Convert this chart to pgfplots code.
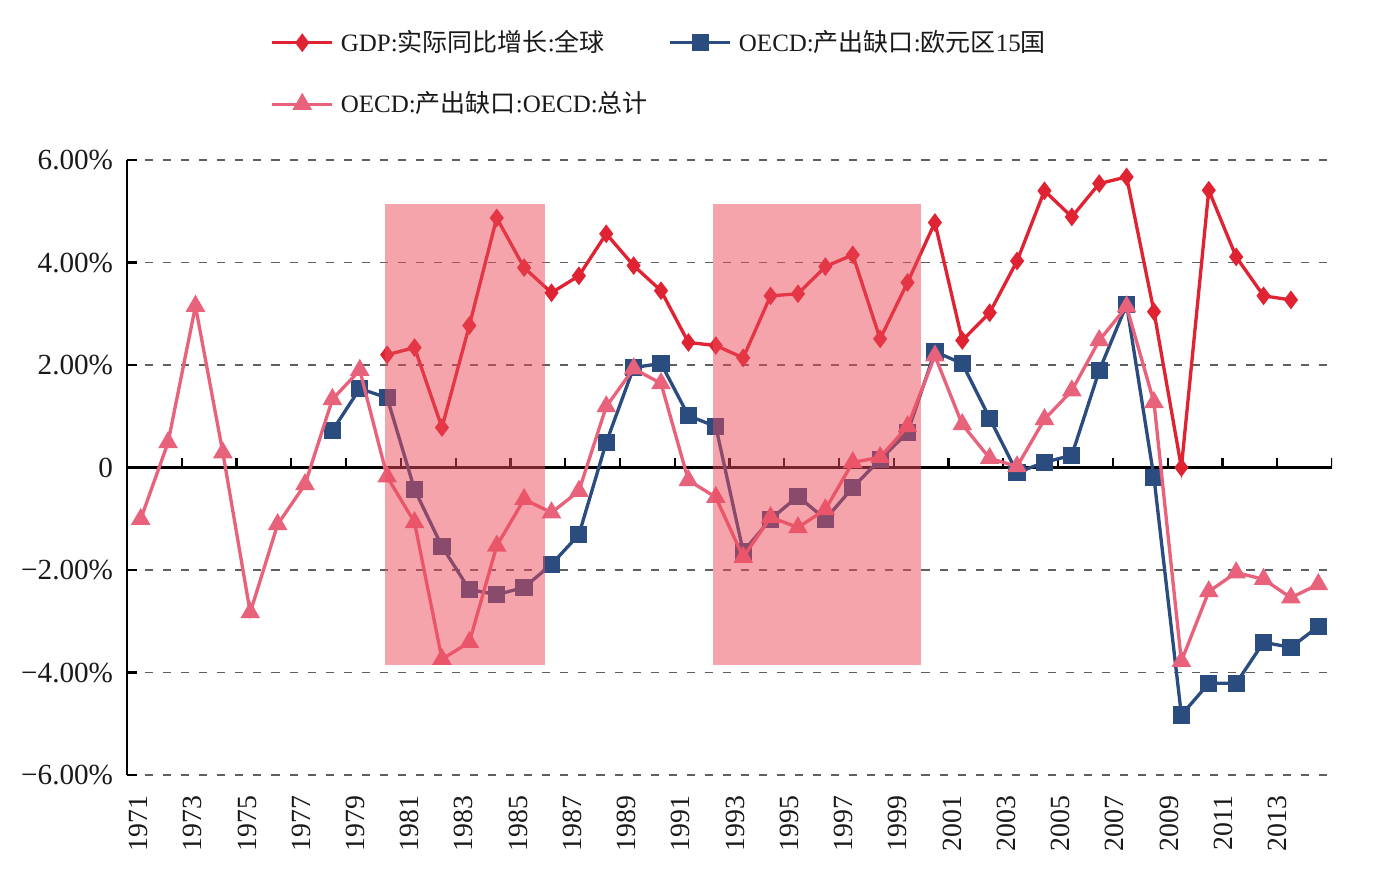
\documentclass[border=0pt]{standalone}
\usepackage{fontspec}
\setmainfont{Liberation Serif}
\newfontfamily\cjk{Noto Sans CJK SC}
\usepackage{pgfplots}
\usepackage{pgfplotstable}
\pgfplotsset{compat=1.18}

\definecolor{gdpred}{RGB}{224,35,50}
\definecolor{eurblue}{RGB}{42,76,126}
\definecolor{oecdpink}{RGB}{233,98,123}
\definecolor{bandpink}{RGB}{235,74,90}
\definecolor{gridgray}{RGB}{95,95,95}

% GDP: real growth, world (%)
\pgfplotstableread{
year val
1980 2.20
1981 2.34
1982 0.78
1983 2.77
1984 4.87
1985 3.90
1986 3.41
1987 3.74
1988 4.56
1989 3.94
1990 3.45
1991 2.44
1992 2.38
1993 2.14
1994 3.35
1995 3.39
1996 3.92
1997 4.15
1998 2.51
1999 3.61
2000 4.78
2001 2.48
2002 3.02
2003 4.03
2004 5.40
2005 4.89
2006 5.54
2007 5.67
2008 3.04
2009 0.00
2010 5.41
2011 4.11
2012 3.35
2013 3.27
}\gdpworld

% OECD output gap: euro area 15 (%)
\pgfplotstableread{
year val
1978 0.72
1979 1.54
1980 1.36
1981 -0.43
1982 -1.54
1983 -2.38
1984 -2.48
1985 -2.34
1986 -1.89
1987 -1.31
1988 0.49
1989 1.95
1990 2.03
1991 1.01
1992 0.80
1993 -1.64
1994 -1.01
1995 -0.56
1996 -1.01
1997 -0.39
1998 0.16
1999 0.68
2000 2.26
2001 2.03
2002 0.96
2003 -0.10
2004 0.10
2005 0.24
2006 1.89
2007 3.18
2008 -0.20
2009 -4.83
2010 -4.21
2011 -4.21
2012 -3.41
2013 -3.51
2014 -3.10
}\gapeuro

% OECD output gap: OECD total (%)
\pgfplotstableread{
year val
1971 -1.01
1972 0.49
1973 3.15
1974 0.29
1975 -2.83
1976 -1.11
1977 -0.33
1978 1.33
1979 1.90
1980 -0.18
1981 -1.07
1982 -3.74
1983 -3.41
1984 -1.53
1985 -0.62
1986 -0.88
1987 -0.46
1988 1.19
1989 1.93
1990 1.64
1991 -0.25
1992 -0.58
1993 -1.75
1994 -0.97
1995 -1.17
1996 -0.82
1997 0.10
1998 0.20
1999 0.80
2000 2.18
2001 0.84
2002 0.18
2003 0.02
2004 0.94
2005 1.50
2006 2.48
2007 3.14
2008 1.27
2009 -3.78
2010 -2.42
2011 -2.05
2012 -2.18
2013 -2.54
2014 -2.28
}\gaptotal

\begin{document}
\begin{tikzpicture}
\useasboundingbox (0,0) rectangle (499.68pt,-318.24pt);
\begin{axis}[
  at={(45.72pt,-279pt)}, anchor=south west,
  scale only axis, width=433.8pt, height=221.4pt,
  xmin=1970.5, xmax=2014.5, ymin=-6, ymax=6,
  clip marker paths=true,
  axis lines*=left,
  x axis line style={draw=none},
  y axis line style={black, line width=0.8pt},
  xtick={1970.92,1972.90,1974.88,1976.86,1978.84,1980.82,1982.80,1984.78,1986.76,1988.74,1990.72,1992.71,1994.69,1996.67,1998.65,2000.63,2002.61,2004.59,2006.57,2008.55,2010.53,2012.51},
  xticklabels={1971,1973,1975,1977,1979,1981,1983,1985,1987,1989,1991,1993,1995,1997,1999,2001,2003,2005,2007,2009,2011,2013},
  xtick style={draw=none},
  xticklabel style={rotate=90, anchor=east, font=\fontsize{10}{12}\selectfont, text=black!90},
  xticklabel shift=4pt,
  ytick={-6,-4,-2,0,2,4,6},
  yticklabels={−6.00\%,−4.00\%,−2.00\%,0,2.00\%,4.00\%,6.00\%},
  yticklabel style={font=\fontsize{10.5}{12}\selectfont, text=black!90},
  yticklabel shift=1.5pt,
  tick align=inside,
  major tick length=3.6pt,
  ytick style={black, line width=0.8pt},
  ymajorgrids,
  grid style={gridgray, line width=0.7pt, dash pattern=on 2.9pt off 3.6pt},
  legend columns=2,
  legend cell align=left,
  legend style={draw=none, fill=none, inner sep=0pt,
    at={(axis description cs:0.1187,1.2168)}, anchor=north west,
    font=\fontsize{9}{11}\selectfont, text=black!90,
    row sep=11pt,
    nodes={inner sep=1pt, text width=117pt},
    /tikz/every odd column/.append style={column sep=1.5pt}},
  legend image code/.code={%
    \draw[mark repeat=2, mark phase=2, #1] plot coordinates {(0pt,0pt) (10.8pt,0pt) (21.6pt,0pt)};},
]
% zero line with category tick marks
\draw[black, line width=0.8pt] (axis cs:1970.5,0) -- (axis cs:2014.5,0);
\pgfplotsinvokeforeach{1972.5,1974.5,...,2014.5}{
  \draw[black, line width=0.8pt] (axis cs:#1,0) -- ++(0pt,3.3pt);
}

\addplot[gdpred, line width=1.2pt, mark=diamond*, mark size=2.4pt,
  mark options={solid, fill=gdpred}] table[x=year, y=val] {\gdpworld};
\addlegendentry{GDP:{\cjk 实际同比增长}:{\cjk 全球}}
\addplot[eurblue, line width=1.2pt, mark=square*, mark size=2.5pt,
  mark options={solid, fill=eurblue}] table[x=year, y=val] {\gapeuro};
\addlegendentry{OECD:{\cjk 产出缺口}:{\cjk 欧元区}15{\cjk 国}}
\addplot[oecdpink, line width=1.2pt, mark=triangle*, mark size=2.9pt,
  mark options={solid, fill=oecdpink}] table[x=year, y=val] {\gaptotal};
\addlegendentry{OECD:{\cjk 产出缺口}:OECD:{\cjk 总计}}

% shaded periods, translucent over the series
\addplot[forget plot, draw=none, fill=bandpink, fill opacity=0.5]
  coordinates {(1979.92,-3.86) (1979.92,5.14) (1985.76,5.14) (1985.76,-3.86)} -- cycle;
\addplot[forget plot, draw=none, fill=bandpink, fill opacity=0.5]
  coordinates {(1991.90,-3.86) (1991.90,5.14) (1999.50,5.14) (1999.50,-3.86)} -- cycle;
\end{axis}
\end{tikzpicture}
\end{document}
